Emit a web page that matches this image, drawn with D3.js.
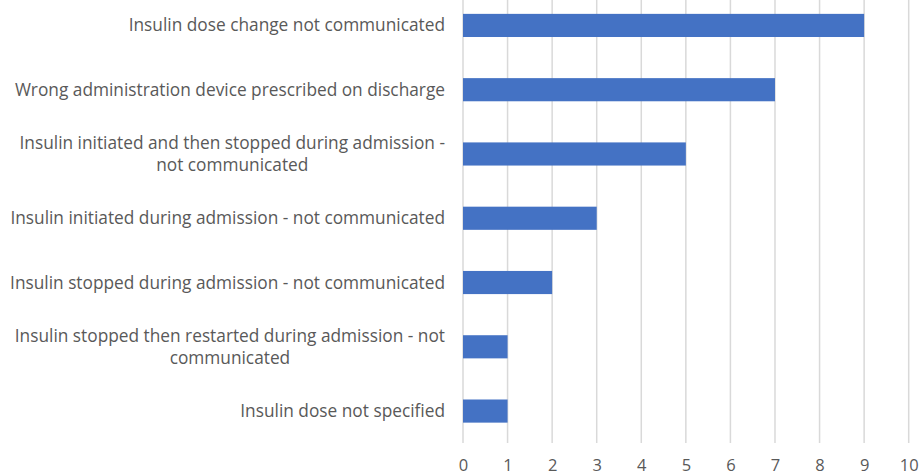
<!DOCTYPE html>
<html>
<head>
<meta charset="utf-8">
<script src="https://cdn.jsdelivr.net/npm/d3@7"></script>
<style>
  body { margin: 0; background: #fff; }
  text { font-family: "Open Sans", sans-serif; }
</style>
</head>
<body>
<svg id="chart"></svg>
<script>
// categories top to bottom, as in the picture
let categories = [
    'Insulin dose change not communicated',
    'Wrong administration device prescribed on discharge',
    'Insulin initiated and then stopped during admission - not communicated',
    'Insulin initiated during admission - not communicated',
    'Insulin stopped during admission - not communicated',
    'Insulin stopped then restarted during admission - not communicated',
    'Insulin dose not specified'
];
let counts = [9, 7, 5, 3, 2, 1, 1];
let xTicks = [0, 1, 2, 3, 4, 5, 6, 7, 8, 9, 10];

let width = 921;
let height = 476;
let margin = { top: -6.7, left: 463, right: 12, bot: 33 };
let config = {
    bodyWidth: 908.7 - margin.left,
    bodyHeight: 443.2 - margin.top
};

let svg = d3.select('#chart')
    .attr('width', width)
    .attr('height', height);

let xScale = d3.scaleLinear()
    .domain([0, 10])
    .range([margin.left, margin.left + config.bodyWidth]);
let yScale = d3.scaleBand()
    .domain(categories)
    .range([margin.top, margin.top + config.bodyHeight])
    .paddingInner(0.64)
    .paddingOuter(0.32);

// vertical gridlines
svg.append('g')
    .selectAll('line')
    .data(xTicks)
    .join('line')
    .attr('x1', d => xScale(d))
    .attr('x2', d => xScale(d))
    .attr('y1', 0)
    .attr('y2', 443)
    .attr('stroke', '#d9d9d9')
    .attr('stroke-width', 1.5);

// bars
svg.append('g')
    .selectAll('rect')
    .data(categories)
    .join('rect')
    .attr('x', xScale(0))
    .attr('y', d => yScale(d))
    .attr('width', (d, i) => xScale(counts[i]) - xScale(0))
    .attr('height', yScale.bandwidth())
    .attr('fill', '#4472c4');

// x axis labels
let xAx = d3.axisBottom(xScale).tickValues(xTicks).tickSize(0).tickPadding(0);
let xAxGroup = svg.append('g')
    .attr('transform', 'translate(0,459)')
    .call(xAx);
xAxGroup.select('.domain').remove();
xAxGroup.selectAll('text')
    .attr('fill', '#595959')
    .style('font-size', '16.5px')
    .style('font-family', '"Open Sans", sans-serif');

// category labels, wrapped like the original
let labelGroup = svg.append('g');
let maxLabelWidth = 440;
let lineHeight = 22;

function wrapLabel(textSel, words) {
    let lines = [];
    let cur = [];
    let probe = textSel.append('tspan');
    for (let w of words) {
        let trial = cur.concat([w]).join(' ');
        probe.text(trial);
        if (probe.node().getComputedTextLength() > maxLabelWidth && cur.length) {
            lines.push(cur.join(' '));
            cur = [w];
        } else {
            cur.push(w);
        }
    }
    lines.push(cur.join(' '));
    probe.remove();
    return lines;
}

categories.forEach((c, i) => {
    let t = labelGroup.append('text')
        .attr('text-anchor', 'middle')
        .attr('fill', '#595959')
        .style('font-size', '17.3px');
    let lines = wrapLabel(t, c.split(' '));
    let cy = yScale(c) + yScale.bandwidth() / 2;
    let y0 = cy - (lines.length - 1) * lineHeight / 2;
    // widest line sets the right-aligned block, lines centred inside it
    let widths = lines.map(l => {
        let p = t.append('tspan').text(l);
        let w = p.node().getComputedTextLength();
        p.remove();
        return w;
    });
    let blockW = d3.max(widths);
    let cx = 445 - blockW / 2;
    lines.forEach((l, j) => {
        t.append('tspan')
            .attr('x', cx)
            .attr('y', y0 + j * lineHeight)
            .attr('dy', '0.35em')
            .text(l);
    });
});
</script>
</body>
</html>
